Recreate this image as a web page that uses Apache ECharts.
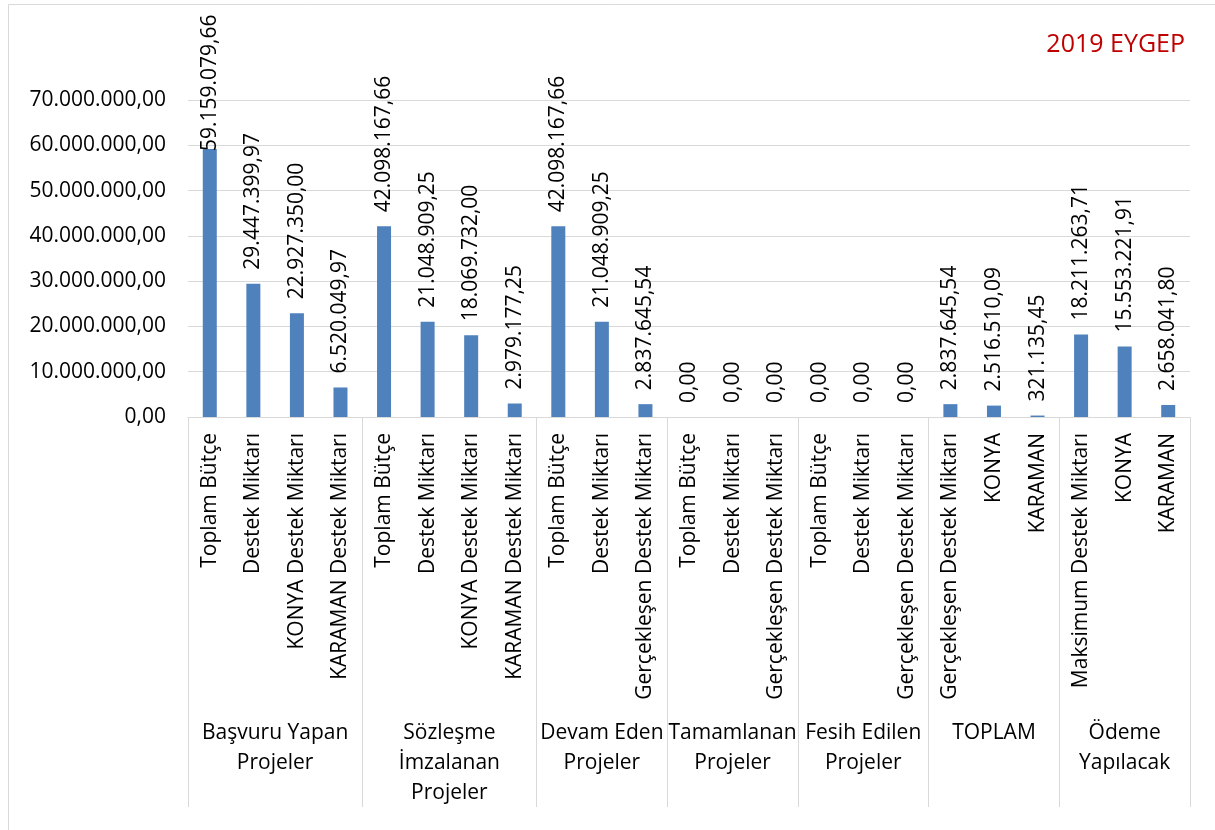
<!DOCTYPE html>
<html>
<head>
<meta charset="utf-8">
<script src="https://cdn.jsdelivr.net/npm/echarts@6/dist/echarts.min.js"></script>
<style>
html,body{margin:0;padding:0;background:#fff;}
#chart{width:1215px;height:830px;}
</style>
</head>
<body>
<div id="chart"></div>
<script>
// ---- data ----
const groupNames = ['Başvuru Yapan\nProjeler', 'Sözleşme\nİmzalanan\nProjeler', 'Devam Eden\nProjeler', 'Tamamlanan\nProjeler', 'Fesih Edilen\nProjeler', 'TOPLAM', 'Ödeme\nYapılacak'];
const groupSizes = [4, 4, 3, 3, 3, 3, 3];
const categories = [
  'Toplam Bütçe', 'Destek Miktarı', 'KONYA Destek Miktarı', 'KARAMAN Destek Miktarı',
  'Toplam Bütçe', 'Destek Miktarı', 'KONYA Destek Miktarı', 'KARAMAN Destek Miktarı',
  'Toplam Bütçe', 'Destek Miktarı', 'Gerçekleşen Destek Miktarı',
  'Toplam Bütçe', 'Destek Miktarı', 'Gerçekleşen Destek Miktarı',
  'Toplam Bütçe', 'Destek Miktarı', 'Gerçekleşen Destek Miktarı',
  'Gerçekleşen Destek Miktarı', 'KONYA', 'KARAMAN',
  'Maksimum Destek Miktarı', 'KONYA', 'KARAMAN'
];
const values = [
  59159079.66, 29447399.97, 22927350.00, 6520049.97,
  42098167.66, 21048909.25, 18069732.00, 2979177.25,
  42098167.66, 21048909.25, 2837645.54,
  0, 0, 0,
  0, 0, 0,
  2837645.54, 2516510.09, 321135.45,
  18211263.71, 15553221.91, 2658041.80
];
const yMin = 0, yMax = 70000000, yStep = 10000000;
const titleText = '2019 EYGEP';

// ---- helpers ----
function fmt(v) {
  const parts = Number(v).toFixed(2).split('.');
  return parts[0].replace(/\B(?=(\d{3})+(?!\d))/g, '.') + ',' + parts[1];
}
// second (group) axis on half-slot positions: boundaries and centres
const halfCats = [];
const tickIdx = new Set([0]);
const labelIdx = {};
let start = 0;
groupSizes.forEach((n, i) => {
  labelIdx[2 * start + n] = groupNames[i];
  start += n;
  tickIdx.add(2 * start);
});
for (let i = 0; i <= 2 * values.length; i++) halfCats.push(labelIdx[i] || '');

const font = "'Open Sans', 'Noto Sans', sans-serif";
const seriesData = values.map((v, i) => i === 0 ? { value: v, label: { distance: -2 } } : v);

const chart = echarts.init(document.getElementById('chart'));
chart.setOption({
  animation: false,
  backgroundColor: '#fff',
  textStyle: { fontFamily: font },
  title: {
    text: titleText,
    right: 25, top: 27,
    textStyle: { color: '#c00000', fontSize: 25, fontWeight: 'normal', fontFamily: font }
  },
  graphic: [{
    type: 'rect', shape: { x: 8.5, y: 4.5, width: 1220, height: 840 },
    style: { fill: 'none', stroke: '#d9d9d9', lineWidth: 1 }, silent: true
  }],
  grid: { left: 188, right: 25, top: 100, bottom: 413 },
  xAxis: [{
    type: 'category',
    data: categories,
    axisLine: { show: true, lineStyle: { color: '#d9d9d9', width: 1 } },
    axisTick: { show: false },
    axisLabel: { interval: 0, rotate: 90, margin: 16, fontSize: 21, color: '#000', fontFamily: font }
  }, {
    type: 'category',
    position: 'bottom',
    boundaryGap: false,
    data: halfCats,
    axisLine: { show: false },
    axisTick: { show: true, length: 390, interval: (i) => tickIdx.has(i), lineStyle: { color: '#d9d9d9', width: 1 } },
    axisLabel: { interval: (i) => !!labelIdx[i], margin: 301, fontSize: 21, lineHeight: 30, color: '#000', align: 'center', fontFamily: font },
    splitLine: { show: false }
  }],
  yAxis: {
    type: 'value',
    min: yMin, max: yMax, interval: yStep,
    axisLine: { show: false },
    axisTick: { show: false },
    splitLine: { lineStyle: { color: '#d9d9d9', width: 1 } },
    axisLabel: { formatter: fmt, fontSize: 21, color: '#000', margin: 22, fontFamily: font }
  },
  series: [{
    type: 'bar',
    xAxisIndex: 0,
    data: seriesData,
    barWidth: 14,
    itemStyle: { color: '#4f81bd' },
    label: {
      show: true, position: 'top', rotate: 90, align: 'left', verticalAlign: 'middle',
      distance: 14, formatter: (p) => fmt(p.value), fontSize: 21, color: '#000', fontFamily: font
    }
  }]
});
</script>
</body>
</html>
